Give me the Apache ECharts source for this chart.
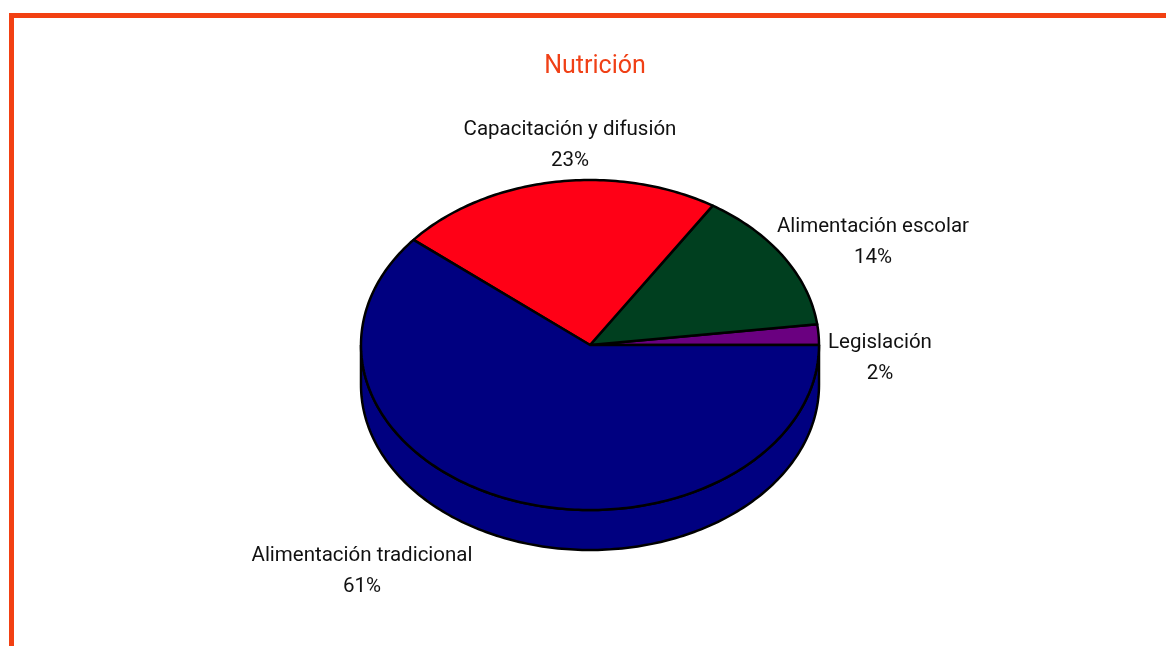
<!DOCTYPE html>
<html>
<head>
<meta charset="utf-8">
<script src="https://cdn.jsdelivr.net/npm/echarts@6/dist/echarts.min.js"></script>
<style>
  html, body { margin: 0; padding: 0; background: #fff; }
  #main { width: 1166px; height: 646px; }
</style>
</head>
<body>
<div id="main"></div>
<script>
// datos
var categories = ['Legislación', 'Alimentación escolar', 'Capacitación y difusión', 'Alimentación tradicional'];
var values = [2, 14, 23, 61];
var colors = ['#6A0080', '#003F1F', '#FF0016', '#000080'];

// layout of the tilted pie
var cx = 590, cy = 345, rx = 229, ry = 165, depth = 40;
// label centers, relative to pie center
var labelOffsets = [[290, 13], [283, -103], [-20, -200], [-228, 226]];
var font = 'Roboto, "Liberation Sans", sans-serif';

var total = values.reduce(function (a, b) { return a + b; }, 0);
var starts = [];
var acc = 0;
values.forEach(function (v) { starts.push(acc); acc += v; });

function pt(deg, dy) {
    var r = deg * Math.PI / 180;
    return [cx + rx * Math.cos(r), cy - ry * Math.sin(r) + (dy || 0)];
}
function arc(a1, a2, dy) {
    var pts = [];
    var n = Math.max(2, Math.ceil(Math.abs(a2 - a1)));
    for (var i = 0; i <= n; i++) {
        pts.push(pt(a1 + (a2 - a1) * i / n, dy));
    }
    return pts;
}

var myChart = echarts.init(document.getElementById('main'));
var option = {
    animation: false,
    title: {
        text: 'Nutrición',
        left: 590,
        top: 49,
        textAlign: 'center',
        textStyle: { color: '#F04016', fontSize: 25, fontWeight: 'normal', fontFamily: font }
    },
    graphic: [
        { type: 'rect', shape: { x: 9, y: 13, width: 1160, height: 5 }, style: { fill: '#F24012' } },
        { type: 'rect', shape: { x: 9, y: 13, width: 5, height: 640 }, style: { fill: '#F24012' } }
    ],
    series: [{
        type: 'custom',
        coordinateSystem: 'none',
        data: values.map(function (v, i) { return [v, i]; }),
        renderItem: function (params, api) {
            var i = params.dataIndex;
            var a1 = starts[i] / total * 360;
            var a2 = (starts[i] + values[i]) / total * 360;
            var children = [];
            // front wall
            var s1 = Math.max(a1, 180), s2 = Math.min(a2, 360);
            if (s2 > s1) {
                var top = arc(s1, s2, 0);
                var bot = arc(s2, s1, depth);
                children.push({
                    type: 'polygon', z2: 1,
                    shape: { points: top.concat(bot) },
                    style: { fill: colors[i], stroke: '#000', lineWidth: 2.5 }
                });
            }
            // top face
            children.push({
                type: 'polygon', z2: 10,
                shape: { points: [[cx, cy]].concat(arc(a1, a2, 0)) },
                style: { fill: colors[i], stroke: '#000', lineWidth: 2.5, lineJoin: 'round' }
            });
            var pct = Math.round(values[i] / total * 100);
            children.push({
                type: 'text', z2: 20,
                x: cx + labelOffsets[i][0],
                y: cy + labelOffsets[i][1],
                style: {
                    text: categories[i] + '\n' + pct + '%',
                    align: 'center', verticalAlign: 'middle',
                    fontSize: 20.5, fontFamily: font,
                    lineHeight: 31, fill: '#111'
                }
            });
            return { type: 'group', children: children };
        }
    }]
};
myChart.setOption(option);
</script>
</body>
</html>
